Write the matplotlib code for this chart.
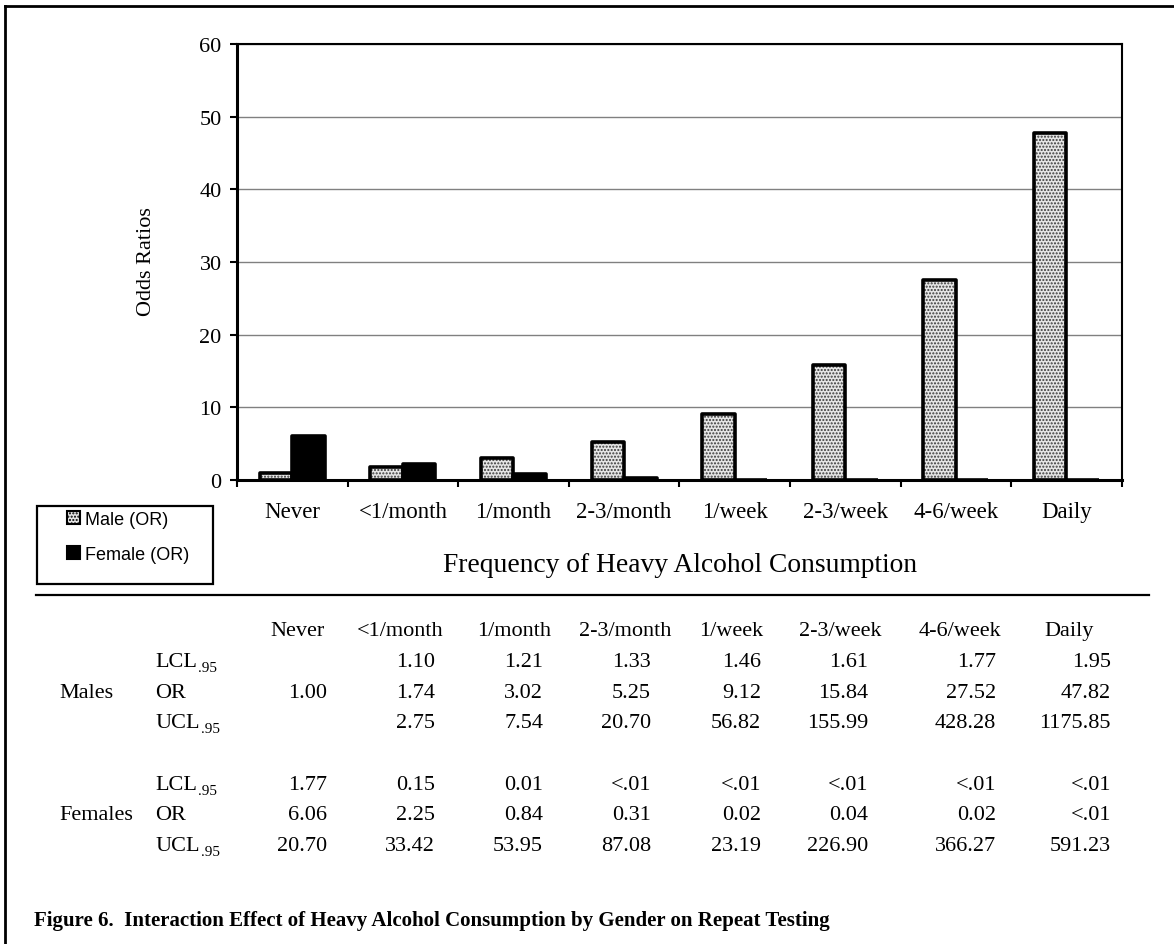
import matplotlib.pyplot as plt
import numpy as np
from matplotlib.lines import Line2D
from matplotlib.patches import Rectangle

# data
categories = ["Never", "<1/month", "1/month", "2-3/month", "1/week", "2-3/week", "4-6/week", "Daily"]
male_or = [1.00, 1.74, 3.02, 5.25, 9.12, 15.84, 27.52, 47.82]
female_or = [6.06, 2.25, 0.84, 0.31, 0.02, 0.04, 0.02, 0.01]

male_lcl_txt = ["", "1.10", "1.21", "1.33", "1.46", "1.61", "1.77", "1.95"]
male_or_txt = ["1.00", "1.74", "3.02", "5.25", "9.12", "15.84", "27.52", "47.82"]
male_ucl_txt = ["", "2.75", "7.54", "20.70", "56.82", "155.99", "428.28", "1175.85"]
female_lcl_txt = ["1.77", "0.15", "0.01", "<.01", "<.01", "<.01", "<.01", "<.01"]
female_or_txt = ["6.06", "2.25", "0.84", "0.31", "0.02", "0.04", "0.02", "<.01"]
female_ucl_txt = ["20.70", "33.42", "53.95", "87.08", "23.19", "226.90", "366.27", "591.23"]

W, H = 1174, 945


def fx(x):
    return x / W


def fy(y):
    return 1 - y / H


plt.rcParams['font.family'] = ['Liberation Serif', 'DejaVu Serif']
plt.rcParams['font.size'] = 16
plt.rcParams['hatch.linewidth'] = 1.0

fig = plt.figure(figsize=(W / 100, H / 100), dpi=100)
ax = fig.add_axes([fx(237), fy(481), (1121.7 - 237) / W, (481 - 45) / H])

x = np.arange(len(categories))
w = 0.294
ax.bar(x - w / 2, male_or, w, color='#e6e6e6', hatch='.....', edgecolor='#3a3a3a', linewidth=0, zorder=2)
ax.bar(x - w / 2, male_or, w, fill=False, edgecolor='black', linewidth=2.6, zorder=3, joinstyle='round')
ax.bar(x + w / 2, female_or, w, color='black', edgecolor='black', linewidth=2.6, zorder=3, joinstyle='round')

ax.set_xlim(-0.5, len(categories) - 0.5)
ax.set_ylim(0, 60)
ax.set_yticks(np.arange(0, 61, 10))
ax.yaxis.grid(True, color='#808080', linewidth=1)
ax.set_axisbelow(True)

ax.set_xticks(np.arange(-0.5, len(categories), 1))
ax.set_xticklabels([])
ax.set_xticks(x, minor=True)
ax.set_xticklabels(categories, minor=True)
ax.tick_params(axis='x', which='major', direction='out', length=5, width=1.5)
ax.tick_params(axis='x', which='minor', length=0, pad=15, labelsize=16.5)
ax.tick_params(axis='y', direction='out', length=5, width=1.5, pad=6, labelsize=16)

for s in ['left', 'bottom']:
    ax.spines[s].set_linewidth(2.2)
    ax.spines[s].set_zorder(4)
for s in ['top', 'right']:
    ax.spines[s].set_linewidth(1.5)

fig.text(fx(147), fy(262), "Odds Ratios", rotation=90, ha='center', va='center', fontsize=16)
fig.text(fx(680), fy(566), "Frequency of Heavy Alcohol Consumption", ha='center', va='center', fontsize=19.8)

# legend box
fig.add_artist(Rectangle((fx(37), fy(585)), (213 - 37) / W, (585 - 507) / H,
                         transform=fig.transFigure, fill=False, edgecolor='black', linewidth=1.6))
male_handle = Rectangle((0, 0), 1, 1, facecolor='#e6e6e6', hatch='.....', edgecolor='black', linewidth=1.5)
female_handle = Rectangle((0, 0), 1, 1, facecolor='black', edgecolor='black', linewidth=1.5)
fig.legend([male_handle, female_handle], ["Male (OR)", "Female (OR)"],
           loc='upper left', bbox_to_anchor=(fx(67), fy(512)), bbox_transform=fig.transFigure,
           frameon=False, borderpad=0, borderaxespad=0, handlelength=0.7, handleheight=0.7,
           handletextpad=0.3, labelspacing=1.0,
           prop={'family': 'Liberation Sans', 'size': 13})

# frame and separator lines
fig.add_artist(Line2D([fx(5), fx(5)], [fy(7), fy(945)], transform=fig.transFigure, color='black', linewidth=2))
fig.add_artist(Line2D([fx(5), fx(1174)], [fy(7), fy(7)], transform=fig.transFigure, color='black', linewidth=2))
fig.add_artist(Line2D([fx(36), fx(1149)], [fy(596), fy(596)], transform=fig.transFigure, color='black', linewidth=1.6))

# table under the chart
col_right = [327, 435, 543, 651, 761, 868, 996, 1111]
head_center = [298, 400, 514, 625, 731, 840, 960, 1069]
for cx, name in zip(head_center, categories):
    fig.text(fx(cx), fy(636), name, ha='center', va='baseline', fontsize=16)

renderer = fig.canvas.get_renderer()
rows = [
    (667, "LCL", male_lcl_txt), (698, "OR", male_or_txt), (728, "UCL", male_ucl_txt),
    (790, "LCL", female_lcl_txt), (820, "OR", female_or_txt), (851, "UCL", female_ucl_txt),
]
for yb, lab, vals in rows:
    t = fig.text(fx(155), fy(yb), lab, ha='left', va='baseline', fontsize=16)
    if lab != "OR":
        bb = t.get_window_extent(renderer)
        fig.text(fx(155 + bb.width + 1), fy(yb + 5), ".95", ha='left', va='baseline', fontsize=11)
    for cx, v in zip(col_right, vals):
        fig.text(fx(cx), fy(yb), v, ha='right', va='baseline', fontsize=16)

fig.text(fx(59), fy(698), "Males", ha='left', va='baseline', fontsize=16)
fig.text(fx(59), fy(820), "Females", ha='left', va='baseline', fontsize=16)

fig.text(fx(34), fy(926), "Figure 6.  Interaction Effect of Heavy Alcohol Consumption by Gender on Repeat Testing",
         ha='left', va='baseline', fontsize=15, fontweight='bold')

fig.savefig("out.png", dpi=100)
